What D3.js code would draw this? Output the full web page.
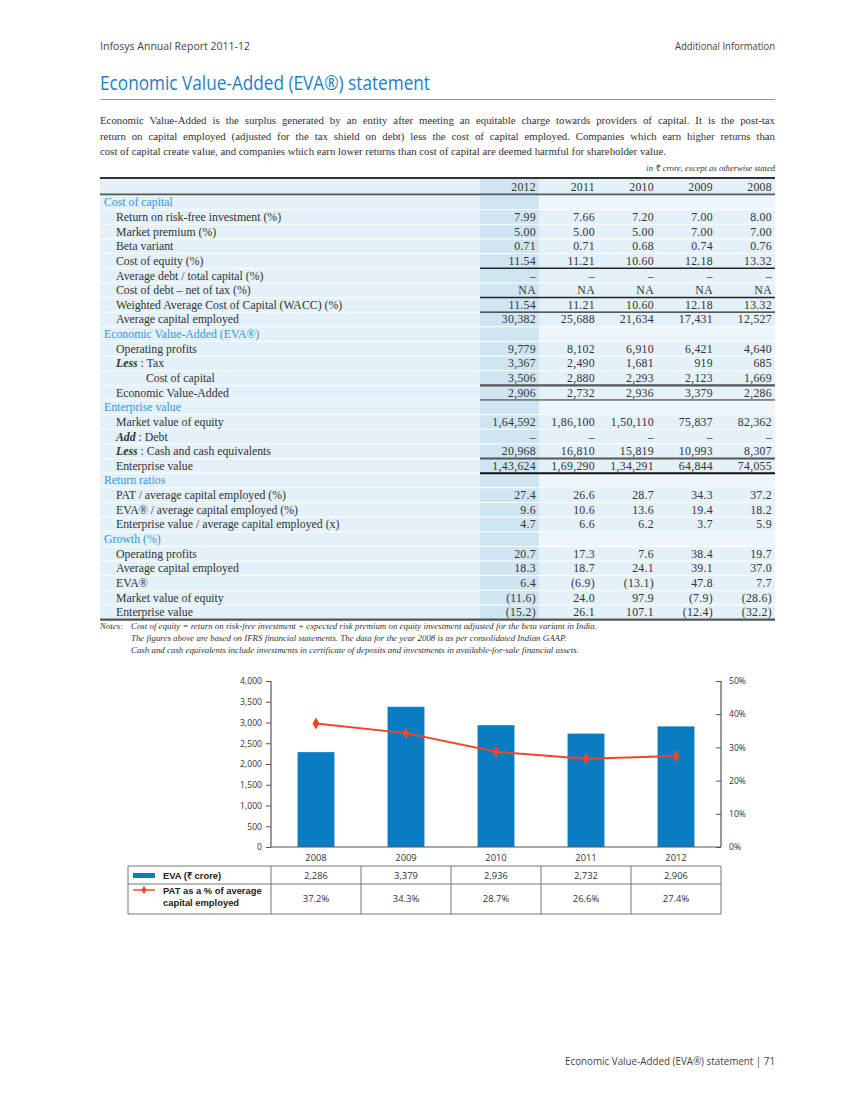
<!DOCTYPE html>
<html>
<head>
<meta charset="utf-8">
<script src="https://cdn.jsdelivr.net/npm/d3@7"></script>
<style>
  html, body { margin: 0; padding: 0; background: #fff; }
  svg { display: block; }
</style>
</head>
<body>
<script>
// ---------------- DATA ----------------
const years = ['2012', '2011', '2010', '2009', '2008'];
const riskFree = ['7.99', '7.66', '7.20', '7.00', '8.00'];
const marketPremium = ['5.00', '5.00', '5.00', '7.00', '7.00'];
const betaVariant = ['0.71', '0.71', '0.68', '0.74', '0.76'];
const costOfEquity = ['11.54', '11.21', '10.60', '12.18', '13.32'];
const avgDebtRatio = ['–', '–', '–', '–', '–'];
const costOfDebt = ['NA', 'NA', 'NA', 'NA', 'NA'];
const wacc = ['11.54', '11.21', '10.60', '12.18', '13.32'];
const avgCapital = ['30,382', '25,688', '21,634', '17,431', '12,527'];
const operatingProfits = ['9,779', '8,102', '6,910', '6,421', '4,640'];
const lessTax = ['3,367', '2,490', '1,681', '919', '685'];
const costOfCapitalAmt = ['3,506', '2,880', '2,293', '2,123', '1,669'];
const evaAmounts = ['2,906', '2,732', '2,936', '3,379', '2,286'];
const marketValue = ['1,64,592', '1,86,100', '1,50,110', '75,837', '82,362'];
const addDebt = ['–', '–', '–', '–', '–'];
const lessCash = ['20,968', '16,810', '15,819', '10,993', '8,307'];
const enterpriseValue = ['1,43,624', '1,69,290', '1,34,291', '64,844', '74,055'];
const patRatio = ['27.4', '26.6', '28.7', '34.3', '37.2'];
const evaRatio = ['9.6', '10.6', '13.6', '19.4', '18.2'];
const evRatio = ['4.7', '6.6', '6.2', '3.7', '5.9'];
const growthOperating = ['20.7', '17.3', '7.6', '38.4', '19.7'];
const growthCapital = ['18.3', '18.7', '24.1', '39.1', '37.0'];
const growthEva = ['6.4', '(6.9)', '(13.1)', '47.8', '7.7'];
const growthMarketValue = ['(11.6)', '24.0', '97.9', '(7.9)', '(28.6)'];
const growthEnterprise = ['(15.2)', '26.1', '107.1', '(12.4)', '(32.2)'];

const chartYears = ['2008', '2009', '2010', '2011', '2012'];
const evaCrore = [2286, 3379, 2936, 2732, 2906];
const patPercent = [37.2, 34.3, 28.7, 26.6, 27.4];
const evaTicks = [0, 500, 1000, 1500, 2000, 2500, 3000, 3500, 4000];
const pctTicks = [0, 10, 20, 30, 40, 50];

const paragraph = [
  'Economic Value-Added is the surplus generated by an entity after meeting an equitable charge towards providers of capital. It is the post-tax',
  'return on capital employed (adjusted for the tax shield on debt) less the cost of capital employed. Companies which earn higher returns than',
  'cost of capital create value, and companies which earn lower returns than cost of capital are deemed harmful for shareholder value.'
];
const notes = [
  'Cost of equity = return on risk-free investment + expected risk premium on equity investment adjusted for the beta variant in India.',
  'The figures above are based on IFRS financial statements. The data for the year 2008 is as per consolidated Indian GAAP.',
  'Cash and cash equivalents include investments in certificate of deposits and investments in available-for-sale financial assets.'
];

// table rows: [prefix, label, level, values]  level 0 = section heading
const tableRows = [
  [null, 'Cost of capital', 0, null],
  [null, 'Return on risk-free investment (%)', 1, riskFree],
  [null, 'Market premium (%)', 1, marketPremium],
  [null, 'Beta variant', 1, betaVariant],
  [null, 'Cost of equity (%)', 1, costOfEquity],
  [null, 'Average debt / total capital (%)', 1, avgDebtRatio],
  [null, 'Cost of debt – net of tax (%)', 1, costOfDebt],
  [null, 'Weighted Average Cost of Capital (WACC) (%)', 1, wacc],
  [null, 'Average capital employed', 1, avgCapital],
  [null, 'Economic Value-Added (EVA®)', 0, null],
  [null, 'Operating profits', 1, operatingProfits],
  ['Less', ' : Tax', 1, lessTax],
  [null, 'Cost of capital', 2, costOfCapitalAmt],
  [null, 'Economic Value-Added', 1, evaAmounts],
  [null, 'Enterprise value', 0, null],
  [null, 'Market value of equity', 1, marketValue],
  ['Add', ' : Debt', 1, addDebt],
  ['Less', ' : Cash and cash equivalents', 1, lessCash],
  [null, 'Enterprise value', 1, enterpriseValue],
  [null, 'Return ratios', 0, null],
  [null, 'PAT / average capital employed (%)', 1, patRatio],
  [null, 'EVA® / average capital employed (%)', 1, evaRatio],
  [null, 'Enterprise value / average capital employed (x)', 1, evRatio],
  [null, 'Growth (%)', 0, null],
  [null, 'Operating profits', 1, growthOperating],
  [null, 'Average capital employed', 1, growthCapital],
  [null, 'EVA®', 1, growthEva],
  [null, 'Market value of equity', 1, growthMarketValue],
  [null, 'Enterprise value', 1, growthEnterprise]
];
// rules under rows (index of row, colour, width)
const ruleRows = [[4, '#222', 1.6], [6, '#222', 1.4], [7, '#222', 1.2], [12, '#555', 2.2], [13, '#222', 1], [17, '#555', 2.2], [18, '#111', 2]];

// ---------------- DRAW ----------------
const W = 850, H = 1100;
const svg = d3.select('body').append('svg').attr('width', W).attr('height', H);
const sans = "'Open Sans', 'Noto Sans', sans-serif";
const serif = "'Liberation Serif', 'DejaVu Serif', serif";
const L = 100, R = 775;

// header
svg.append('text').attr('x', L).attr('y', 50).attr('font-family', sans).attr('font-size', 10)
  .attr('fill', '#444').attr('textLength', 150).attr('lengthAdjust', 'spacingAndGlyphs').text('Infosys Annual Report 2011-12');
svg.append('text').attr('x', R).attr('y', 50).attr('text-anchor', 'end').attr('font-family', sans).attr('font-size', 10)
  .attr('fill', '#444').attr('textLength', 100).attr('lengthAdjust', 'spacingAndGlyphs').text('Additional Information');

// title
svg.append('text').attr('x', L).attr('y', 90).attr('font-family', sans).attr('font-size', 20)
  .attr('fill', '#1f80c6').attr('textLength', 330).attr('lengthAdjust', 'spacingAndGlyphs')
  .text('Economic Value-Added (EVA®) statement');
svg.append('line').attr('x1', L).attr('x2', R).attr('y1', 99.5).attr('y2', 99.5).attr('stroke', '#999').attr('stroke-width', 1);

// paragraph (justified)
paragraph.forEach((ln, i) => {
  const t = svg.append('text').attr('x', L).attr('y', 124 + i * 15.5).attr('font-family', serif)
    .attr('font-size', 10.8).attr('fill', '#333').text(ln);
  if (i < paragraph.length - 1) {
    const w = t.node().getComputedTextLength();
    const spaces = ln.split(' ').length - 1;
    t.attr('word-spacing', (R - L - w) / spaces);
  }
});

svg.append('text').attr('x', R).attr('y', 171).attr('text-anchor', 'end').attr('font-family', serif)
  .attr('font-style', 'italic').attr('font-size', 8.6).attr('fill', '#333').text('in ₹ crore, except as otherwise stated');

// table
const tTop = 179, headH = 15, rowH = 14.64;
const r0 = tTop + headH + 1;
const col = d3.scaleBand().domain(years).range([480, R]);
const colA = '#e4f1f9', colB = '#d0e5f2', colLight = '#eef6fb';
const numSize = 11.8, labSize = 11.8;

// header row
svg.append('rect').attr('x', L).attr('y', tTop).attr('width', R - L).attr('height', headH).attr('fill', colA);
svg.append('rect').attr('x', col('2012')).attr('y', tTop).attr('width', col.bandwidth()).attr('height', headH).attr('fill', colB);
svg.selectAll('.yh').data(years).enter().append('text')
  .attr('x', d => col(d) + col.bandwidth() - 3).attr('y', tTop + 11.5).attr('text-anchor', 'end')
  .attr('font-family', serif).attr('font-size', numSize).attr('letter-spacing', 0.3).attr('fill', '#333').text(d => d);
svg.append('line').attr('x1', L).attr('x2', R).attr('y1', tTop - 1).attr('y2', tTop - 1).attr('stroke', '#333').attr('stroke-width', 2);
svg.append('line').attr('x1', L).attr('x2', R).attr('y1', tTop + headH + 0.5).attr('y2', tTop + headH + 0.5).attr('stroke', '#555').attr('stroke-width', 2.2);

const rows = svg.selectAll('.row').data(tableRows).enter().append('g')
  .attr('transform', (d, i) => `translate(0,${r0 + i * rowH})`);
rows.append('rect').attr('x', L).attr('y', 0.5).attr('width', 480 - L).attr('height', rowH - 1).attr('fill', colA);
rows.append('rect').attr('x', col(years[1])).attr('y', 0.5).attr('width', R - col(years[1])).attr('height', rowH - 1)
  .attr('fill', d => d[2] === 0 ? colLight : colA);
rows.append('rect').attr('x', col('2012')).attr('y', 0.5).attr('width', col.bandwidth()).attr('height', rowH - 1).attr('fill', colB);

rows.each(function (d) {
  const g = d3.select(this);
  const x = d[2] === 0 ? 104 : d[2] === 1 ? 116 : 146;
  const t = g.append('text').attr('x', x).attr('y', rowH / 2 + 4).attr('font-family', serif).attr('font-size', labSize)
    .attr('fill', d[2] === 0 ? '#3498d8' : '#333');
  if (d[0]) t.append('tspan').attr('font-style', 'italic').attr('font-weight', 'bold').text(d[0]);
  t.append('tspan').text(d[1]);
  if (d[3]) {
    g.selectAll('.v').data(d[3]).enter().append('text')
      .attr('x', (v, j) => col(years[j]) + col.bandwidth() - 3).attr('y', rowH / 2 + 4).attr('text-anchor', 'end')
      .attr('font-family', serif).attr('font-size', numSize).attr('letter-spacing', 0.3).attr('fill', '#333').text(v => v);
  }
});

ruleRows.forEach(([i, c, w]) => {
  const y = r0 + (i + 1) * rowH;
  svg.append('line').attr('x1', 480).attr('x2', R).attr('y1', y).attr('y2', y).attr('stroke', c).attr('stroke-width', w);
});
const tBottom = r0 + tableRows.length * rowH;
svg.append('line').attr('x1', L).attr('x2', R).attr('y1', tBottom).attr('y2', tBottom).attr('stroke', '#555').attr('stroke-width', 2.2);

// notes
svg.append('text').attr('x', L).attr('y', tBottom + 9).attr('font-family', serif).attr('font-style', 'italic')
  .attr('font-size', 8.9).attr('fill', '#333').text('Notes:');
notes.forEach((n, i) => {
  svg.append('text').attr('x', 131).attr('y', tBottom + 9 + i * 12).attr('font-family', serif).attr('font-style', 'italic')
    .attr('font-size', 8.9).attr('fill', '#333').text(n);
});

// ---------------- CHART ----------------
const cx0 = 271, cx1 = 721, cy0 = 847, cy1 = 681;
const x = d3.scaleBand().domain(chartYears).range([cx0, cx1]).paddingInner(0.59).paddingOuter(0.295);
const yL = d3.scaleLinear().domain([0, 4000]).range([cy0, cy1]);
const yR = d3.scaleLinear().domain([0, 50]).range([cy0, cy1]);
const chartFont = "'Open Sans', sans-serif";

svg.selectAll('.bar').data(evaCrore).enter().append('rect')
  .attr('x', (d, i) => x(chartYears[i])).attr('width', x.bandwidth())
  .attr('y', d => yL(d)).attr('height', d => cy0 - yL(d)).attr('fill', '#0a7cc2');

const axL = svg.append('g').attr('transform', `translate(${cx0},0)`)
  .call(d3.axisLeft(yL).tickValues(evaTicks).tickSize(5).tickPadding(4).tickFormat(d3.format(',')));
const axR = svg.append('g').attr('transform', `translate(${cx1},0)`)
  .call(d3.axisRight(yR).tickValues(pctTicks).tickSize(-5).tickPadding(8).tickFormat(d => d + '%'));
[axL, axR].forEach(a => {
  a.select('.domain').attr('stroke', '#555').attr('stroke-width', 1.2).attr('d', `M0,${cy0}V${cy1}`);
  a.selectAll('line').attr('stroke', '#555');
  a.selectAll('text').attr('font-family', chartFont).attr('font-size', 8.6).attr('fill', '#333');
});
svg.append('line').attr('x1', cx0).attr('x2', cx1).attr('y1', cy0).attr('y2', cy0).attr('stroke', '#555').attr('stroke-width', 1.2);

svg.selectAll('.xl').data(chartYears).enter().append('text')
  .attr('x', d => x(d) + x.bandwidth() / 2).attr('y', 861).attr('text-anchor', 'middle')
  .attr('font-family', chartFont).attr('font-size', 9.4).attr('fill', '#333').text(d => d);

const line = d3.line().x((d, i) => x(chartYears[i]) + x.bandwidth() / 2).y(d => yR(d));
svg.append('path').datum(patPercent).attr('d', line).attr('fill', 'none').attr('stroke', '#ef4627').attr('stroke-width', 2);
const diamond = d3.symbol().type(d3.symbolDiamond).size(40);
svg.selectAll('.pt').data(patPercent).enter().append('path').attr('d', diamond)
  .attr('transform', (d, i) => `translate(${x(chartYears[i]) + x.bandwidth() / 2},${yR(d)})`).attr('fill', '#ef4627');

// legend / data table
const lt0 = 866, lt1 = 884, lt2 = 914, lx0 = 128;
const bounds = [lx0].concat(chartYears.map(d => x(d) + x.bandwidth() / 2 - x.step() / 2), [cx1]);
const gridC = '#777';
[lt0, lt1, lt2].forEach(y => svg.append('line').attr('x1', lx0).attr('x2', cx1).attr('y1', y).attr('y2', y).attr('stroke', gridC).attr('stroke-width', 1));
bounds.forEach(bx => svg.append('line').attr('x1', bx).attr('x2', bx).attr('y1', lt0).attr('y2', lt2).attr('stroke', gridC).attr('stroke-width', 1));

svg.selectAll('.lv1').data(evaCrore).enter().append('text')
  .attr('x', (d, i) => x(chartYears[i]) + x.bandwidth() / 2).attr('y', 879).attr('text-anchor', 'middle')
  .attr('font-family', chartFont).attr('font-size', 9.4).attr('fill', '#333').text(d => d3.format(',')(d));
svg.selectAll('.lv2').data(patPercent).enter().append('text')
  .attr('x', (d, i) => x(chartYears[i]) + x.bandwidth() / 2).attr('y', 902).attr('text-anchor', 'middle')
  .attr('font-family', chartFont).attr('font-size', 9.4).attr('fill', '#333').text(d => d.toFixed(1) + '%');

svg.append('rect').attr('x', 133).attr('y', 873).attr('width', 22).attr('height', 5).attr('fill', '#0a7cc2');
svg.append('text').attr('x', 163).attr('y', 879).attr('font-family', "'Liberation Sans', Arial, sans-serif").attr('font-weight', 'bold')
  .attr('font-size', 9.4).attr('fill', '#222').text('EVA  (₹ crore)');
svg.append('line').attr('x1', 133).attr('x2', 155).attr('y1', 890).attr('y2', 890).attr('stroke', '#f47a60').attr('stroke-width', 2);
svg.append('path').attr('d', d3.symbol().type(d3.symbolDiamond).size(22)).attr('transform', 'translate(144,890)').attr('fill', '#ef4627');
svg.append('text').attr('x', 163).attr('y', 894).attr('font-family', "'Liberation Sans', Arial, sans-serif").attr('font-weight', 'bold')
  .attr('font-size', 9.4).attr('fill', '#222').text('PAT as a % of average');
svg.append('text').attr('x', 163).attr('y', 906).attr('font-family', "'Liberation Sans', Arial, sans-serif").attr('font-weight', 'bold')
  .attr('font-size', 9.4).attr('fill', '#222').text('capital employed');

// footer
svg.append('text').attr('x', R).attr('y', 1065).attr('text-anchor', 'end').attr('font-family', sans).attr('font-size', 10)
  .attr('fill', '#444').attr('textLength', 210).attr('lengthAdjust', 'spacingAndGlyphs')
  .text('Economic Value-Added (EVA®) statement | 71');
</script>
</body>
</html>
